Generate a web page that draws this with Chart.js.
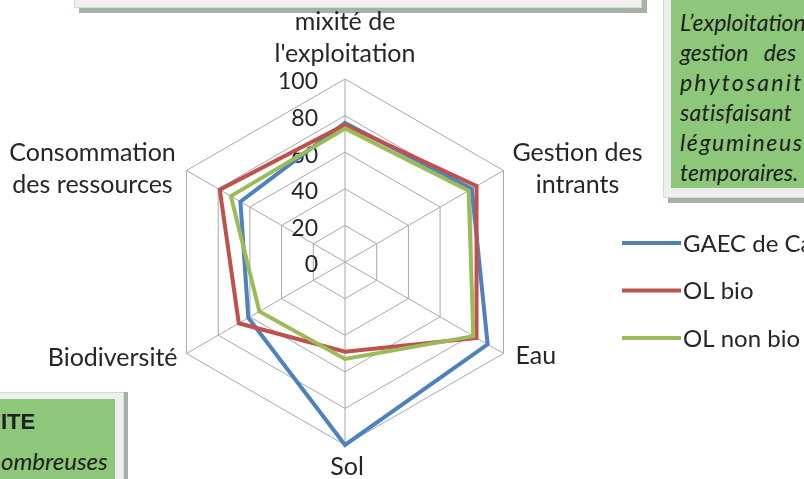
<!DOCTYPE html>
<html>
<head>
<meta charset="utf-8">
<script src="https://cdn.jsdelivr.net/npm/chart.js@4.4.1/dist/chart.umd.min.js"></script>
<style>
  html, body { margin: 0; padding: 0; background: #fff; }
  body { width: 804px; height: 479px; overflow: hidden; position: relative; font-family: Lato, sans-serif; }
  .frame { position: absolute; background: #eeeeee; border: 1px solid #d2dcd2; box-shadow: 5px 5px 0 #a4b2a4; }
  .green { position: absolute; background: #8cc77a; }
  .note { position: absolute; left: 680px; white-space: nowrap; font-style: italic; font-size: 23px; line-height: 30px; color: #1e1e1e; }
  #c { position: absolute; left: 0; top: 0; }
</style>
</head>
<body>
<!-- surrounding boxes of the page the chart was cut from -->
<div class="frame" style="left:74px;top:-20px;width:566px;height:26px;"></div>

<div class="frame" style="left:663px;top:-10px;width:160px;height:206px;"></div>
<div class="green" style="left:671px;top:0;width:140px;height:188px;"></div>
<div class="note" style="top:7px;">L’exploitation</div>
<div class="note" style="top:37px;word-spacing:10px;">gestion des</div>
<div class="note" style="top:67px;letter-spacing:2.2px;">phytosanit</div>
<div class="note" style="top:97px;letter-spacing:0.3px;">satisfaisant</div>
<div class="note" style="top:127px;letter-spacing:1.6px;">légumineus</div>
<div class="note" style="top:157px;">temporaires.</div>

<div class="frame" style="left:-10px;top:392px;width:132px;height:100px;box-shadow:4px 0 0 #a4b2a4;"></div>
<div class="green" style="left:0;top:399px;width:115px;height:90px;"></div>
<div style="position:absolute;left:1px;top:409px;font:bold 22px 'Liberation Sans';color:#1e1e1e;">ITE</div>
<div style="position:absolute;left:1px;top:446px;font:italic 24px Lato;color:#1e1e1e;">ombreuses</div>

<canvas id="c" width="804" height="479"></canvas>

<script>
const axes = [['mixité de', "l'exploitation"], ['Gestion des', 'intrants'], 'Eau', 'Sol', 'Biodiversité', ['Consommation', 'des ressources']];
const seriesNames = ['GAEC de Ca', 'OL bio', 'OL non bio'];
const gaec = [76, 80, 90, 100, 61, 66];
const olBio = [75, 83, 83, 49, 67, 79];
const olNonBio = [73, 78, 81, 53, 54, 72];
const tickValues = [0, 20, 40, 60, 80, 100];
const colors = ['#4f81bd', '#c0504d', '#9bbb59'];

// where each axis title sits relative to its outer vertex
const place = [
  { dx: 0, dy: -57, align: 'center' },
  { dx: 74, dy: -18, align: 'center' },
  { dx: 12, dy: 2, align: 'left' },
  { dx: 2, dy: 22, align: 'center' },
  { dx: -9, dy: 4, align: 'right' },
  { dx: -94, dy: -18, align: 'center' }
];

const labelPlugin = {
  id: 'labels',
  beforeDatasetsDraw(chart) {
    const r = chart.scales.r;
    const ctx = chart.ctx;
    ctx.save();
    ctx.font = '23px Lato';
    ctx.fillStyle = '#262626';
    ctx.textAlign = 'right';
    ctx.textBaseline = 'middle';
    tickValues.forEach(v => {
      const y = r.yCenter - r.getDistanceFromCenterForValue(v);
      ctx.fillText(String(v), r.xCenter - 27, y + 3);
    });
    ctx.restore();
  },
  afterDraw(chart) {
    const r = chart.scales.r;
    const ctx = chart.ctx;
    ctx.save();
    ctx.font = '25px Lato';
    ctx.fillStyle = '#262626';
    ctx.textBaseline = 'middle';
    chart.data.labels.forEach((lab, i) => {
      const p = r.getPointPosition(i, r.drawingArea);
      const lines = Array.isArray(lab) ? lab : [lab];
      ctx.textAlign = place[i].align;
      lines.forEach((t, k) => ctx.fillText(t, p.x + place[i].dx, p.y + place[i].dy + k * 32));
    });

    // legend
    ctx.font = '24px Lato';
    ctx.textAlign = 'left';
    chart.data.datasets.forEach((ds, i) => {
      const y = 243 + i * 47.5;
      ctx.strokeStyle = ds.borderColor;
      ctx.lineWidth = 4;
      ctx.beginPath();
      ctx.moveTo(622, y);
      ctx.lineTo(681, y);
      ctx.stroke();
      ctx.fillText(ds.label, 683, y + 1);
    });
    ctx.restore();
  }
};

new Chart(document.getElementById('c'), {
  type: 'radar',
  data: {
    labels: axes,
    datasets: [
      { label: seriesNames[0], data: gaec, borderColor: colors[0], order: 2 },
      { label: seriesNames[1], data: olBio, borderColor: colors[1], order: 1 },
      { label: seriesNames[2], data: olNonBio, borderColor: colors[2], order: 0 }
    ]
  },
  options: {
    responsive: false,
    animation: false,
    layout: { padding: { left: 162, top: 79, right: 276, bottom: 34 } },
    elements: {
      line: { borderWidth: 4, fill: false, tension: 0, borderJoinStyle: 'miter' },
      point: { radius: 0, hoverRadius: 0 }
    },
    plugins: { legend: { display: false }, tooltip: { enabled: false } },
    scales: {
      r: {
        min: 0,
        max: 100,
        ticks: { stepSize: 20, display: false },
        pointLabels: { display: false },
        grid: { color: '#a8a8a8', lineWidth: 1 },
        angleLines: { color: '#a8a8a8', lineWidth: 1 }
      }
    }
  },
  plugins: [labelPlugin]
});
</script>
</body>
</html>
